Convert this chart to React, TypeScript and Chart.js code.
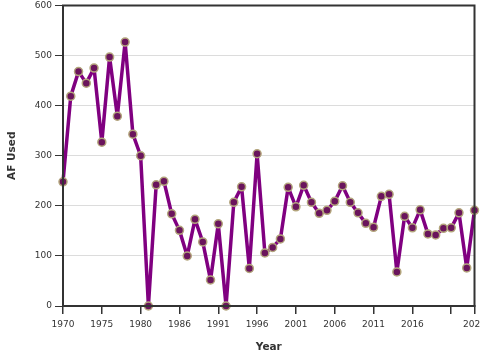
import React, { useEffect, useRef } from "react";
import { Chart, registerables } from "chart.js";

Chart.register(...registerables);

const years: string[] = [
  "1970","1971","1972","1973","1974","1975","1976","1977","1978","1979","1980",
  "1982","1983","1984","1985","1986","1987","1988","1989","1990","1991","1992",
  "1993","1994","1995","1996","1997","1998","1999","2000","2001","2002","2003",
  "2004","2005","2006","2007","2008","2009","2010","2011","2012","2013","2014",
  "2015","2016","2017","2018","2019","2020","2021","2022","2023","2024",
];

const afUsed: number[] = [
  248, 419, 468, 445, 475, 327, 497, 379, 527, 343, 300,
  0, 242, 249, 184, 151, 100, 173, 128, 52, 164, 0,
  207, 238, 75, 304, 106, 117, 134, 237, 198, 241, 207,
  185, 191, 209, 240, 207, 186, 165, 157, 219, 223, 68,
  179, 156, 192, 144, 142, 155, 156, 186, 76, 191,
];

const yTicks: number[] = [0, 100, 200, 300, 400, 500, 600];

const FONT = "'DejaVu Sans', Verdana, sans-serif";

const frame = {
  id: "frame",
  afterDatasetsDraw(chart: any) {
    const { ctx, chartArea } = chart;
    ctx.save();
    ctx.strokeStyle = "#333";
    ctx.lineWidth = 2;
    ctx.strokeRect(chartArea.left, chartArea.top, chartArea.right - chartArea.left, chartArea.bottom - chartArea.top);
    ctx.restore();
  },
};

export default function App() {
  const ref = useRef<HTMLCanvasElement | null>(null);
  useEffect(() => {
    if (!ref.current) return;
    const chart = new Chart(ref.current, {
      type: "line",
      data: {
        labels: years,
        datasets: [
          {
            data: afUsed,
            borderColor: "#800080",
            borderWidth: 3.5,
            borderJoinStyle: "round",
            borderCapStyle: "round",
            backgroundColor: "#800080",
            pointRadius: 4,
            pointBorderWidth: 1.5,
            pointBackgroundColor: "#6a145c",
            pointBorderColor: "#b3a57c",
            tension: 0,
            clip: false as any,
          },
        ],
      },
      options: {
        animation: false,
        responsive: false,
        maintainAspectRatio: false,
        layout: { padding: { top: 4, right: 4, left: 0, bottom: 0 } },
        plugins: { legend: { display: false }, tooltip: { enabled: false } },
        scales: {
          x: {
            type: "category",
            offset: false,
            border: { display: true, color: "#333", width: 2 },
            grid: { display: true, drawOnChartArea: false, drawTicks: true, tickLength: 8, color: "#333", lineWidth: 1.5 },
            ticks: {
              autoSkip: false,
              maxRotation: 0,
              padding: 5,
              color: "#333",
              font: { family: FONT, size: 9 },
              callback: (_v: any, i: number) => {
                if (i === years.length - 1) return years[i];
                if (i === 50) return "";
                if (i % 5 === 0) return years[i];
                return null;
              },
            },
            title: {
              display: true,
              text: "Year",
              color: "#333",
              font: { family: FONT, size: 10.5, weight: "bold" },
              padding: { top: 0, bottom: 6 },
            },
            afterFit: (s: any) => {
              s.height = 54;
              s.paddingLeft = 0;
              s.paddingRight = 0;
            },
          },
          y: {
            min: 0,
            max: 600,
            afterBuildTicks: (s: any) => {
              s.ticks = yTicks.map((v) => ({ value: v }));
            },
            border: { display: true, color: "#333", width: 2 },
            grid: { color: (c: any) => (c.tick && c.tick.value === 0 ? "rgba(0,0,0,0)" : "#dcdcdc"), lineWidth: 1, tickLength: 8, tickColor: "#333" } as any,
            ticks: {
              padding: 3,
              color: "#333",
              font: { family: FONT, size: 9 },
            },
            title: {
              display: true,
              text: "AF Used",
              color: "#333",
              font: { family: FONT, size: 10.5, weight: "bold" },
              padding: { top: 6, bottom: 0 },
            },
            afterFit: (s: any) => {
              s.width = 63;
              s.paddingTop = 0;
              s.paddingBottom = 0;
            },
          },
        },
      },
      plugins: [frame],
    });
    return () => chart.destroy();
  }, []);
  return (
    <div style={{ position: "fixed", left: 0, top: 0, width: 480, height: 360, background: "#fff" }}>
      <canvas ref={ref} width={480} height={360} style={{ display: "block" }} />
    </div>
  );
}
